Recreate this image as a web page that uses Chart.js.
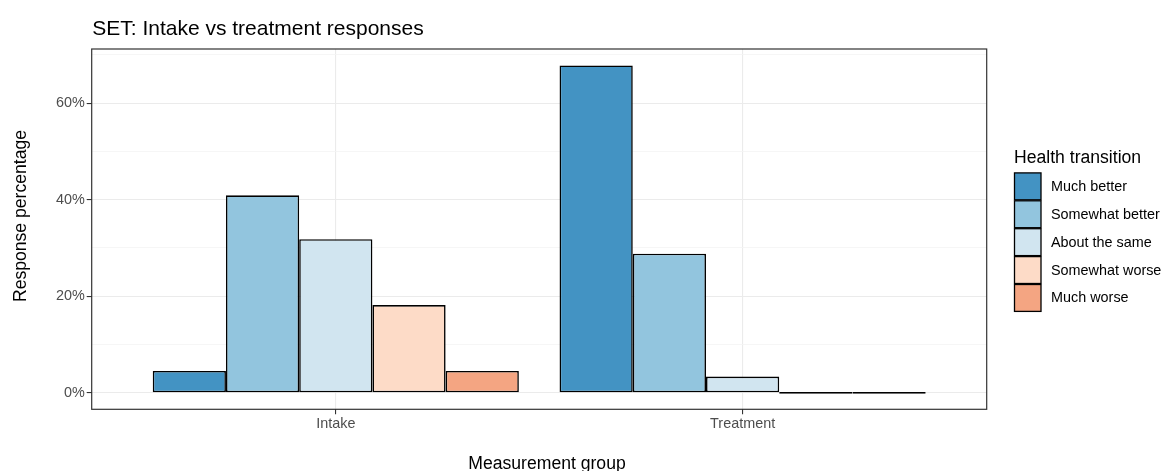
<!DOCTYPE html>
<html><head><meta charset="utf-8">
<script src="https://cdn.jsdelivr.net/npm/chart.js@4.4.1/dist/chart.umd.min.js"></script>
<style>html,body{margin:0;padding:0;background:#fff}#wrap{width:1165px;height:471px;position:relative}</style>
</head><body><div id="wrap"><canvas id="c"></canvas></div>
<script>
const categories = ['Intake', 'Treatment'];
const transitions = ['Much better', 'Somewhat better', 'About the same', 'Somewhat worse', 'Much worse'];
const transitionColors = ['#4393C3', '#92C5DE', '#D1E5F0', '#FDDBC7', '#F4A582'];
const intakeValues = [4.55, 40.91, 31.82, 18.18, 4.55];
const treatmentValues = [67.80, 28.81, 3.39, 0, 0];
const yTickLabels = [0, 20, 40, 60];
const chartTitle = 'SET: Intake vs treatment responses';
const xTitle = 'Measurement group';
const yTitle = 'Response percentage';
const legendTitle = 'Health transition';

const groupValues = [intakeValues, treatmentValues];
const maxVal = Math.max(...intakeValues, ...treatmentValues);
const FONT = '"Liberation Sans", Arial, Helvetica, sans-serif';

const datasets = transitions.map((t, k) => ({
  label: t,
  data: categories.map((c, i) => ({ x: i, y: groupValues[i][k] })),
  backgroundColor: transitionColors[k],
  borderColor: '#000',
  borderWidth: 1.6,
  borderSkipped: false,
  minBarLength: 1.8,
  inflateAmount: 0
}));

const decor = {
  id: 'decor',
  afterDraw(chart) {
    const { ctx, chartArea: a } = chart;
    ctx.save();
    ctx.strokeStyle = '#333';
    ctx.lineWidth = 1.2;
    ctx.strokeRect(a.left, a.top, a.right - a.left, a.bottom - a.top);

    ctx.fillStyle = '#000';
    ctx.textBaseline = 'alphabetic';
    ctx.textAlign = 'left';
    ctx.font = '21px ' + FONT;
    ctx.fillText(chartTitle, a.left + 0.5, 35);

    ctx.font = '17.6px ' + FONT;
    ctx.textAlign = 'center';
    ctx.fillText(xTitle, 547, 468.5);

    ctx.save();
    ctx.translate(25.5, 216);
    ctx.rotate(-Math.PI / 2);
    ctx.fillText(yTitle, 0, 0);
    ctx.restore();

    ctx.textAlign = 'left';
    ctx.fillText(legendTitle, 1014, 162.5);
    const rowH = 27.9, top0 = 172.4;
    transitions.forEach((t, i) => {
      const top = top0 + i * rowH;
      ctx.fillStyle = transitionColors[i];
      ctx.fillRect(1014.5, top + 0.5, 26.5, rowH - 1);
      ctx.strokeStyle = '#000';
      ctx.lineWidth = 1.3;
      ctx.strokeRect(1014.5, top + 0.5, 26.5, rowH - 1);
      ctx.fillStyle = '#000';
      ctx.font = '14.4px ' + FONT;
      ctx.textBaseline = 'middle';
      ctx.fillText(t, 1051, top + rowH / 2 + 0.5);
      ctx.textBaseline = 'alphabetic';
    });
    ctx.restore();
  }
};

new Chart(document.getElementById('c'), {
  type: 'bar',
  data: { datasets },
  plugins: [decor],
  options: {
    responsive: true,
    maintainAspectRatio: false,
    animation: false,
    layout: { padding: { top: 49, right: 178.3, bottom: 0, left: 0 } },
    plugins: { legend: { display: false }, title: { display: false }, tooltip: { enabled: false } },
    datasets: { bar: { barPercentage: 1, categoryPercentage: 0.9, grouped: true } },
    scales: {
      x: {
        type: 'linear',
        min: -0.6,
        max: 1.6,
        offset: false,
        afterFit: s => { s.height = 61.7; },
        border: { display: false },
        grid: { offset: false, color: '#EBEBEB', lineWidth: 1.1, tickColor: '#333', tickLength: 5, tickWidth: 1.1 },
        ticks: {
          stepSize: 1,
          includeBounds: false,
          autoSkip: false,
          maxRotation: 0,
          padding: 1,
          color: '#4D4D4D',
          font: { family: FONT, size: 14.4 },
          callback: v => categories[v] ?? ''
        }
      },
      y: {
        min: -0.05 * maxVal,
        max: 1.05 * maxVal,
        afterFit: s => { s.width = 91.7; },
        border: { display: false },
        grid: {
          color: c => (yTickLabels.includes(c.tick.value) ? '#EBEBEB' : '#F4F4F4'),
          lineWidth: c => (yTickLabels.includes(c.tick.value) ? 1.1 : 0.8),
          tickColor: c => (yTickLabels.includes(c.tick.value) ? '#333' : 'rgba(0,0,0,0)'),
          tickLength: 5,
          tickWidth: 1.1
        },
        ticks: {
          stepSize: 10,
          includeBounds: false,
          autoSkip: false,
          padding: 2,
          color: '#4D4D4D',
          font: { family: FONT, size: 14.4 },
          callback: v => (yTickLabels.includes(v) ? v + '%' : '')
        }
      }
    }
  }
});
</script></body></html>
